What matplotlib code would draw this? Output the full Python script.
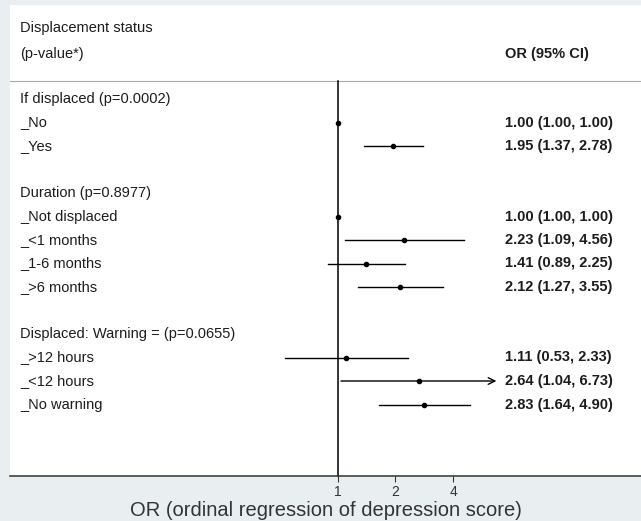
#Forest plot: OR of depression score by displacement status
import numpy as np
import matplotlib.pyplot as plt
from matplotlib import transforms

#Row labels (blank strings are spacer rows)
row_labels = ["If displaced (p=0.0002)", "_No", "_Yes", "",
              "Duration (p=0.8977)", "_Not displaced", "_<1 months", "_1-6 months", "_>6 months", "",
              "Displaced: Warning = (p=0.0655)", "_>12 hours", "_<12 hours", "_No warning"]

#Odds ratios and 95% CI (nan where row has no estimate)
or_est = [np.nan, 1.00, 1.95, np.nan, np.nan, 1.00, 2.23, 1.41, 2.12, np.nan, np.nan, 1.11, 2.64, 2.83]
ci_low = [np.nan, 1.00, 1.37, np.nan, np.nan, 1.00, 1.09, 0.89, 1.27, np.nan, np.nan, 0.53, 1.04, 1.64]
ci_high = [np.nan, 1.00, 2.78, np.nan, np.nan, 1.00, 4.56, 2.25, 3.55, np.nan, np.nan, 2.33, 6.73, 4.90]

xticks = [1, 2, 4]

#Plot range upper limit; CIs beyond it get an arrow
ci_clip = 6.0

bg = '#e9eff1'
txt = '#1c1c1c'

plt.rcParams['font.family'] = 'Liberation Sans'

fig = plt.figure(figsize=(6.41, 5.21), dpi=100, facecolor=bg)

#axes covers the white panel (pixel coords converted to figure fractions)
W, H = 641., 521.
ax = fig.add_axes([10/W, (H-476)/H, 1-10/W, (476-5)/H])
ax.set_facecolor('white')

#log2 x scale: x=1 at pixel 337.7, 57.7 px per doubling
ax.set_xscale('log', base=2)
ax.set_xlim(2**((10-337.7)/57.7), 2**((641-337.7)/57.7))

#rows: y(px) = 99 + 23.5*i
ybot = (476-99)/23.5
ytop = (5-99)/23.5
ax.set_ylim(ybot, ytop)
sep_y = (81-99)/23.5

for s in ['top', 'right', 'left']:
    ax.spines[s].set_visible(False)
ax.spines['bottom'].set_color('#333333')
ax.spines['bottom'].set_linewidth(1.1)
ax.set_yticks([])
ax.set_xticks(xticks)
ax.set_xticklabels([str(t) for t in xticks])
ax.minorticks_off()
ax.tick_params(axis='x', direction='out', length=4.5, width=0.8, color='#333333',
               labelsize=10, labelcolor='#333333', pad=2)
ax.set_xlabel('OR (ordinal regression of depression score)', fontsize=14.5, color='#333333', labelpad=1.5)

#header separator and null line
ax.axhline(sep_y, color='#a8a8a8', lw=0.8)
ax.plot([1, 1], [sep_y, ybot], color='black', lw=1.1, clip_on=False)

#text columns
tr = transforms.blended_transform_factory(fig.transFigure, ax.transData)
xl = 20/W
xr = 505/W
ax.text(xl, (28-99)/23.5, 'Displacement status', transform=tr, fontsize=10.5, color=txt, va='center')
ax.text(xl, (54-99)/23.5, '(p-value*)', transform=tr, fontsize=10.5, color=txt, va='center')
ax.text(xr, (54-99)/23.5, 'OR (95% CI)', transform=tr, fontsize=10.5, color=txt, va='center', fontweight='bold')

for i, lab in enumerate(row_labels):
    if lab:
        ax.text(xl, i, lab, transform=tr, fontsize=10.5, color=txt, va='center')
    if not np.isnan(or_est[i]):
        ax.text(xr, i, '%.2f (%.2f, %.2f)' % (or_est[i], ci_low[i], ci_high[i]), transform=tr,
                fontsize=10.5, color=txt, va='center', fontweight='bold')
        if ci_high[i] > ci_clip:
            ax.annotate('', xy=(ci_high[i], i), xytext=(ci_low[i], i),
                        arrowprops=dict(arrowstyle='->', color='black', lw=1.0, mutation_scale=12,
                                        shrinkA=0, shrinkB=0))
        else:
            ax.plot([ci_low[i], ci_high[i]], [i, i], color='black', lw=1.0)
        ax.plot(or_est[i], i, 'o', color='black', markersize=3)

plt.savefig('out.png', dpi=100, facecolor=bg)
